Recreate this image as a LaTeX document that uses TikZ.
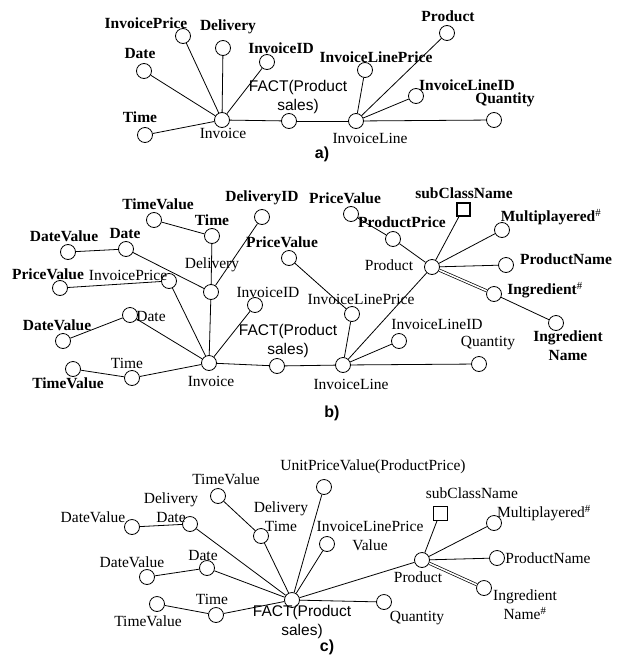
\documentclass[tikz,border=0pt]{standalone}
\usepackage{fontspec}
\setmainfont{Liberation Serif}
\newfontfamily\arialf{Liberation Sans}
\newcommand{\hs}{\textsuperscript{\normalfont\#}}
\tikzset{
 cn/.style={circle, draw, fill=white, minimum size=15pt, inner sep=0pt, line width=0.8pt},
 sqn/.style={rectangle, draw, fill=white, minimum size=14pt, inner sep=0pt},
 lb/.style={inner sep=0pt, align=center, font=\fontsize{15.5}{19}\selectfont},
 bl/.style={inner sep=0pt, align=center, font=\fontsize{15.5}{19}\selectfont\bfseries},
 sf/.style={inner sep=0pt, align=center, font=\fontsize{15.5}{19}\selectfont\arialf},
 pl/.style={inner sep=0pt, font=\fontsize{16}{19}\selectfont\arialf\bfseries},
 ed/.style={line width=0.8pt},
 dbl/.style={double, double distance=1.6pt, line width=0.7pt},
}
\begin{document}
\begin{tikzpicture}[x=1pt,y=-1pt]
\useasboundingbox (0,0) rectangle (618,664);
% ================= a) =================
\node[cn] (aInv) at (222,120) {};
\node[cn] (aTime) at (145,135) {};
\node[cn] (aDate) at (144,71) {};
\node[cn] (aIP) at (183,36) {};
\node[cn] (aDel) at (223,48) {};
\node[cn] (aIID) at (267,62) {};
\node[cn] (aFact) at (289,121) {};
\node[cn] (aIL) at (356,121) {};
\node[cn] (aILP) at (365,70) {};
\node[cn] (aProd) at (447,33) {};
\node[cn] (aILID) at (416,96) {};
\node[cn] (aQty) at (494,120) {};
\foreach \t in {aTime,aDate,aIP,aDel,aIID,aFact} \draw[ed] (aInv) -- (\t);
\draw[ed] (aFact) -- (aIL);
\foreach \t in {aILP,aProd,aILID,aQty} \draw[ed] (aIL) -- (\t);
\node[lb] (aInvL) at (223,133) {Invoice};
\node[bl] (aTimeL) at (140,117) {Time};
\node[bl] (aDateL) at (140,53) {Date};
\node[bl] (aIPL) at (146,23) {InvoicePrice};
\node[bl] (aDelL) at (228,27) {Delivery};
\node[bl] (aIIDL) at (281,48) {InvoiceID};
\node[sf] (aFactL) at (298,97) {FACT(Product\\sales)};
\node[lb] (aILL) at (370,138) {InvoiceLine};
\node[bl] (aILPL) at (376,57) {InvoiceLinePrice};
\node[bl] (aProdL) at (448,16) {Product};
\node[bl] (aILIDL) at (467,85) {InvoiceLineID};
\node[bl] (aQtyL) at (505,100) {Quantity};
\node[pl] (aTag) at (322,154) {a)};
% ================= b) =================
\node[cn] (bInv) at (209,363) {};
\node[cn] (bTime) at (132,378) {};
\node[cn] (bTV) at (73,369) {};
\node[cn] (bDate) at (130,315) {};
\node[cn] (bDV) at (63,341) {};
\node[cn] (bIP) at (169,281) {};
\node[cn] (bPV) at (60,288) {};
\node[cn] (bDel) at (211,292) {};
\node[cn] (bDTime) at (212,236) {};
\node[cn] (bDTV) at (154,220) {};
\node[cn] (bDDate) at (126,249) {};
\node[cn] (bDDV) at (68,252) {};
\node[cn] (bDID) at (262,217) {};
\node[cn] (bIID) at (255,305) {};
\node[cn] (bFact) at (277,366) {};
\node[cn] (bILPV) at (289,258) {};
\node[cn] (bILP) at (352,314) {};
\node[cn] (bIL) at (343,365) {};
\node[cn] (bILID) at (399,341) {};
\node[cn] (bQty) at (479,364) {};
\node[cn] (bProd) at (432,267) {};
\node[cn] (bPP) at (393,239) {};
\node[cn] (bPPV) at (351,214) {};
\node[sqn, line width=2pt, minimum size=13pt] (bSub) at (463,209) {};
\node[cn] (bMP) at (502,230) {};
\node[cn] (bPN) at (506,265) {};
\node[cn] (bIng) at (494,294) {};
\node[cn] (bIngN) at (556,323) {};
\foreach \t in {bTime,bDate,bIP,bDel,bIID,bFact} \draw[ed] (bInv) -- (\t);
\draw[ed] (bTime) -- (bTV);
\draw[ed] (bDate) -- (bDV);
\draw[ed] (bIP) -- (bPV);
\draw[ed] (bDel) -- (bDTime);
\draw[ed] (bDel) -- (bDDate);
\draw[ed] (bDel) -- (bDID);
\draw[ed] (bDTime) -- (bDTV);
\draw[ed] (bDDate) -- (bDDV);
\draw[ed] (bFact) -- (bIL);
\foreach \t in {bILP,bILID,bQty,bProd} \draw[ed] (bIL) -- (\t);
\draw[ed] (bILP) -- (bILPV);
\draw[ed] (bProd) -- (bPP);
\draw[ed] (bPP) -- (bPPV);
\draw[ed] (bProd) -- (bSub);
\draw[ed] (bProd) -- (bMP);
\draw[ed] (bProd) -- (bPN);
\draw[dbl] (bProd) -- (bIng);
\draw[ed] (bIng) -- (bIngN);
\node[lb] (bInvL) at (211,381) {Invoice};
\node[lb] (bTimeL) at (127,363) {Time};
\node[bl] (bTVL) at (68,383) {TimeValue};
\node[lb] (bDateL) at (151,316) {Date};
\node[bl] (bDVL) at (57,325) {DateValue};
\node[lb] (bIPL) at (128,275) {InvoicePrice};
\node[bl] (bPVL) at (48,274) {PriceValue};
\node[lb] (bDelL) at (212,265) {Delivery};
\node[bl] (bDTimeL) at (212,220) {Time};
\node[bl] (bDTVL) at (158,204) {TimeValue};
\node[bl] (bDDateL) at (125,233) {Date};
\node[bl] (bDDVL) at (64,236) {DateValue};
\node[bl] (bDIDL) at (262,198) {DeliveryID};
\node[lb] (bIIDL) at (268,292) {InvoiceID};
\node[sf] (bFactL) at (288,341) {FACT(Product\\sales)};
\node[bl] (bILPVL) at (282,242) {PriceValue};
\node[lb] (bILPL) at (361,299) {InvoiceLinePrice};
\node[lb] (bILL) at (351,384) {InvoiceLine};
\node[lb] (bILIDL) at (437,324) {InvoiceLineID};
\node[lb] (bQtyL) at (488,343) {Quantity};
\node[lb] (bProdL) at (389,265) {Product};
\node[bl] (bPPL) at (402,222) {ProductPrice};
\node[bl] (bPPVL) at (345,198) {PriceValue};
\node[bl] (bSubL) at (464,193) {subClassName};
\node[bl] (bMPL) at (551,217) {Multiplayered\hs};
\node[bl] (bPNL) at (566,259) {ProductName};
\node[bl] (bIngL) at (545,290) {Ingredient\hs};
\node[bl] (bIngNL) at (568,346) {Ingredient\\Name};
\node[pl] (bTag) at (332,413) {b)};
% ================= c) =================
\node[cn] (cFact) at (292,600) {};
\node[cn] (cTime) at (216,615) {};
\node[cn] (cTV) at (157,604) {};
\node[cn] (cDate) at (207,568) {};
\node[cn] (cDV) at (147,577) {};
\node[cn] (cDD) at (190,524) {};
\node[cn] (cDV2) at (132,527) {};
\node[cn] (cDT) at (261,536) {};
\node[cn] (cTV2) at (218,496) {};
\node[cn] (cUPV) at (324,487) {};
\node[cn] (cILPV) at (327,544) {};
\node[cn] (cProd) at (422,560) {};
\node[sqn, line width=0.8pt] (cSub) at (440,513) {};
\node[cn] (cMP) at (494,523) {};
\node[cn] (cPN) at (497,558) {};
\node[cn] (cIng) at (484,588) {};
\node[cn] (cQty) at (384,602) {};
\foreach \t in {cTime,cDate,cDD,cDT,cUPV,cILPV,cProd,cQty} \draw[ed] (cFact) -- (\t);
\draw[ed] (cTime) -- (cTV);
\draw[ed] (cDate) -- (cDV);
\draw[ed] (cDD) -- (cDV2);
\draw[ed] (cDT) -- (cTV2);
\draw[ed] (cProd) -- (cSub);
\draw[ed] (cProd) -- (cMP);
\draw[ed] (cProd) -- (cPN);
\draw[dbl] (cProd) -- (cIng);
\node[sf] (cFactL) at (302,622) {FACT(Product\\sales)};
\node[lb] (cTimeL) at (212,599) {Time};
\node[lb] (cTVL) at (148,621) {TimeValue};
\node[lb] (cDateL) at (203,555) {Date};
\node[lb] (cDVL) at (132,562) {DateValue};
\node[lb] (cDDL) at (171,508) {Delivery\\Date};
\node[lb] (cDV2L) at (93,517) {DateValue};
\node[lb] (cDTL) at (281,517) {Delivery\\Time};
\node[lb] (cTV2L) at (226,479) {TimeValue};
\node[lb] (cUPVL) at (373,467) {UnitPriceValue(ProductPrice)};
\node[lb] (cILPVL) at (370,536) {InvoiceLinePrice\\Value};
\node[lb] (cProdL) at (418,577) {Product};
\node[lb] (cSubL) at (472,493) {subClassName};
\node[lb] (cMPL) at (544,513) {Multiplayered\hs};
\node[lb] (cPNL) at (548,558) {ProductName};
\node[lb] (cIngL) at (525,605) {Ingredient\\Name\hs};
\node[lb] (cQtyL) at (417,618) {Quantity};
\node[pl] (cTag) at (327,647) {c)};
\end{tikzpicture}
\end{document}
